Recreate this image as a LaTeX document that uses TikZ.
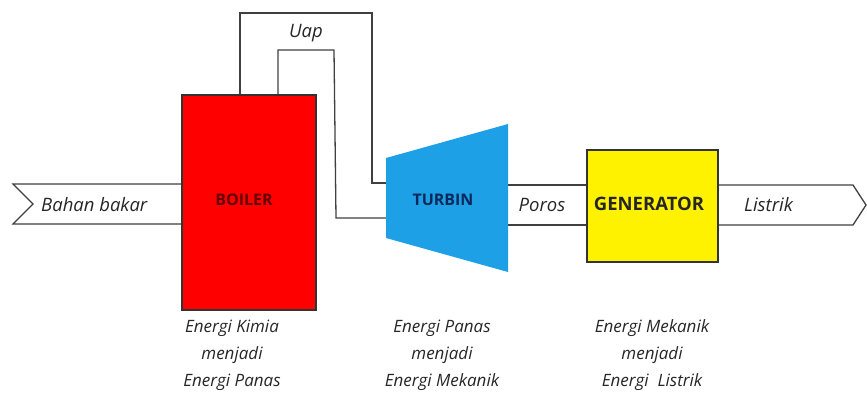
\documentclass[tikz,border=0pt]{standalone}
\usepackage{fontspec}
\setmainfont{Open Sans}
\begin{document}
\begin{tikzpicture}[x=1pt,y=-1pt,
  line/.style={draw=black!75,line width=1.3pt},
  lbl/.style={font=\itshape\fontsize{18.5}{18.5}\selectfont,text=black!85,inner sep=0pt},
  captxt/.style={font=\itshape\fontsize{17}{27}\selectfont,text=black!85,align=center,inner sep=0pt},
  boxlbl/.style={font=\bfseries\fontsize{16}{16}\selectfont,inner sep=0pt}]
\useasboundingbox (0,0) rectangle (867,392);
% input arrow
\draw[line,fill=white] (182,184) -- (13,184) -- (33,204) -- (13,224) -- (182,224);
% steam pipes
\coordinate (p1) at (240,95);
\coordinate (p2) at (240,13);
\coordinate (p3) at (372,13);
\coordinate (p4) at (372,183);
\coordinate (p5) at (387,183);
\coordinate (q1) at (278,95);
\coordinate (q2) at (278,50);
\coordinate (q3) at (334,50);
\coordinate (q4) at (336,218);
\coordinate (q5) at (387,218);
\draw[line] (p1) -- (p2) -- (p3) -- (p4) -- (p5);
\draw[line] (q1) -- (q2) -- (q3) -- (q4) -- (q5);
\node[lbl] (uap) at (306,33) {Uap};
% boiler
\node[draw=black!80,line width=1.3pt,fill=red,minimum width=134pt,minimum height=215pt,inner sep=0pt] (boiler) at (249,202.5) {};
\node[boxlbl,text=red!40!black] (boilerlbl) at (244,200) {BOILER};
% shaft
\draw[line] (508,185) -- (587,185);
\draw[line] (508,225) -- (587,225);
\node[lbl] (poros) at (542,205) {Poros};
% turbine
\fill[fill={rgb,255:red,30;green,160;blue,230}] (386,158) -- (508,124) -- (508,272) -- (386,238) -- cycle;
\node[boxlbl,text={rgb,255:red,10;green,40;blue,90}] (turbin) at (443,200) {TURBIN};
% output arrow
\draw[line,fill=white] (718,185) -- (853,185) -- (866,205) -- (853,225) -- (718,225);
\node[lbl] (listrik) at (744,205) [anchor=west] {Listrik};
% generator
\node[draw=black!80,line width=1.3pt,fill=yellow,minimum width=131pt,minimum height=112pt,inner sep=0pt] (gen) at (652.5,206) {};
\node[boxlbl,font=\bfseries\fontsize{18.5}{18.5}\selectfont,text=black!85] (genlbl) at (649,204) {GENERATOR};
% captions
\node[captxt] (c1) at (232,355) {Energi Kimia\\menjadi\\Energi Panas};
\node[captxt] (c2) at (442,355) {Energi Panas\\menjadi\\Energi Mekanik};
\node[captxt] (c3) at (652,355) {Energi Mekanik\\menjadi\\Energi~ Listrik};
% bahan bakar label
\node[lbl] (bb) at (41,205) [anchor=west] {Bahan bakar};
\end{tikzpicture}
\end{document}
